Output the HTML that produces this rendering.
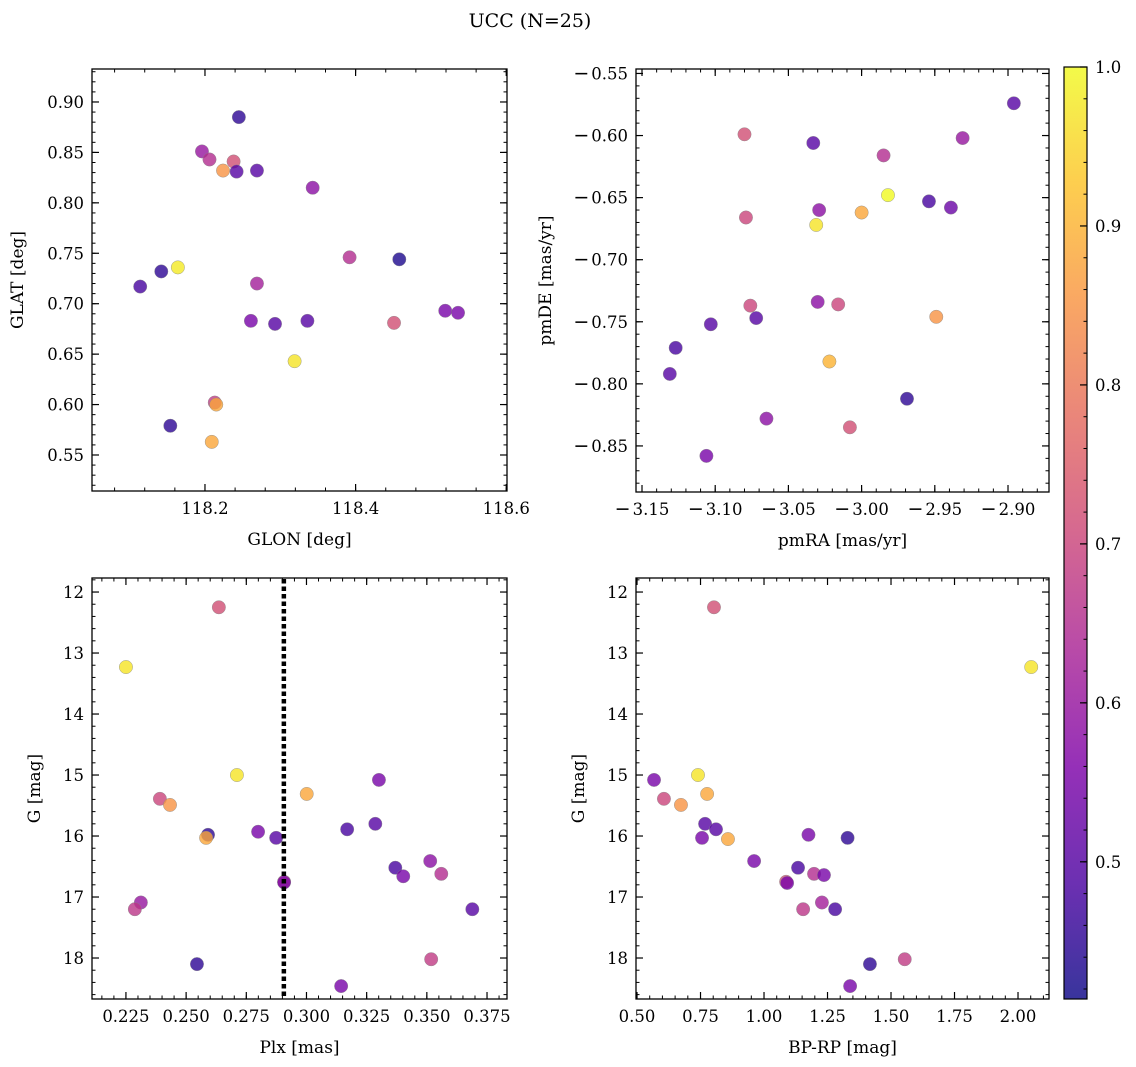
<!DOCTYPE html>
<html><head><meta charset="utf-8"><style>
body{margin:0;background:#fff;}
svg{display:block;font-family:"DejaVu Serif","Liberation Serif",serif;}
</style></head><body>
<svg id="fig" width="1136" height="1067" viewBox="0 0 1136 1067" xmlns="http://www.w3.org/2000/svg">
<defs><linearGradient id="plasma" x1="0" y1="1" x2="0" y2="0">
<stop offset="0" stop-color="#0d0887"/><stop offset="0.125" stop-color="#4c02a1"/><stop offset="0.25" stop-color="#7e03a8"/><stop offset="0.375" stop-color="#a92395"/><stop offset="0.5" stop-color="#cc4778"/><stop offset="0.625" stop-color="#e56b5d"/><stop offset="0.75" stop-color="#f89441"/><stop offset="0.875" stop-color="#fdc328"/><stop offset="1" stop-color="#f0f921"/></linearGradient></defs>
<text x="530" y="27" font-size="19" text-anchor="middle">UCC (N=25)</text>
</svg>
<script>
// ---- data ----
const tlGlon=[118.245,118.196,118.206,118.238,118.224,118.242,118.269,118.343,118.392,118.458,118.142,118.164,118.114,118.269,118.261,118.293,118.336,118.451,118.519,118.536,118.319,118.213,118.215,118.154,118.209];
const tlGlat=[0.885,0.851,0.843,0.841,0.832,0.831,0.832,0.815,0.746,0.744,0.732,0.736,0.717,0.720,0.683,0.680,0.683,0.681,0.693,0.691,0.643,0.602,0.600,0.579,0.563];
const tlProb=[0.45,0.6,0.65,0.72,0.85,0.5,0.5,0.58,0.65,0.43,0.45,0.98,0.48,0.62,0.55,0.5,0.5,0.72,0.55,0.55,0.97,0.68,0.88,0.45,0.88];
const trPmra=[-2.896,-2.931,-3.033,-3.080,-2.985,-2.982,-2.954,-2.939,-3.031,-3.000,-3.029,-3.079,-3.076,-3.030,-3.016,-2.949,-3.072,-3.103,-3.127,-3.022,-3.131,-2.969,-3.065,-3.008,-3.106];
const trPmde=[-0.574,-0.602,-0.606,-0.599,-0.616,-0.648,-0.653,-0.658,-0.672,-0.662,-0.660,-0.666,-0.737,-0.734,-0.736,-0.746,-0.747,-0.752,-0.771,-0.782,-0.792,-0.812,-0.828,-0.835,-0.858];
const trProb=[0.5,0.6,0.5,0.72,0.65,1.0,0.48,0.53,0.97,0.88,0.58,0.7,0.7,0.58,0.7,0.85,0.5,0.5,0.48,0.9,0.5,0.45,0.58,0.72,0.55];
const blPlx=[0.2636,0.225,0.2711,0.2391,0.2433,0.3301,0.3001,0.2591,0.2583,0.2799,0.2874,0.3169,0.3286,0.3369,0.3402,0.3514,0.3560,0.3689,0.2907,0.2312,0.2287,0.2545,0.3144,0.3518,0.2907];
const blG=[12.25,13.23,15.0,15.39,15.49,15.08,15.31,15.98,16.03,15.93,16.03,15.89,15.80,16.52,16.66,16.41,16.62,17.20,16.75,17.09,17.20,18.10,18.46,18.02,16.76];
const blProb=[0.72,0.97,0.97,0.7,0.85,0.55,0.88,0.45,0.88,0.55,0.5,0.48,0.5,0.48,0.55,0.58,0.65,0.5,0.72,0.6,0.67,0.45,0.55,0.68,0.55];
const brBprp=[0.803,2.052,0.567,0.606,0.673,0.740,0.776,0.768,0.811,0.756,0.858,1.175,1.329,0.961,1.134,1.087,1.091,1.197,1.236,1.228,1.154,1.280,1.417,1.339,1.554];
const brG=[12.25,13.23,15.08,15.39,15.49,15.0,15.31,15.80,15.89,16.03,16.05,15.98,16.03,16.41,16.52,16.75,16.77,16.62,16.64,17.09,17.20,17.20,18.10,18.46,18.02];
const brProb=[0.72,0.97,0.55,0.7,0.85,0.97,0.88,0.5,0.5,0.55,0.88,0.55,0.45,0.55,0.48,0.72,0.55,0.65,0.55,0.62,0.67,0.48,0.45,0.55,0.68];
const plxLine=0.2906;
const cbTicks=[0.5,0.6,0.7,0.8,0.9,1.0];

const svg=document.getElementById('fig');
const NS='http://www.w3.org/2000/svg';
function mk(tag,attrs,parent){const e=document.createElementNS(NS,tag);for(const k in attrs)e.setAttribute(k,attrs[k]);(parent||svg).appendChild(e);return e;}
const stops=[[0,[13,8,135]],[0.125,[76,2,161]],[0.25,[126,3,168]],[0.375,[169,35,149]],[0.5,[204,71,120]],[0.625,[229,107,93]],[0.75,[248,148,65]],[0.875,[253,195,40]],[1,[240,249,33]]];
const cmin=0.4137,cmax=1.0;
function cmap(v){let t=(v-cmin)/(cmax-cmin);t=Math.max(0,Math.min(1,t));for(let i=1;i<stops.length;i++){if(t<=stops[i][0]){const a=stops[i-1],b=stops[i];const f=(t-a[0])/(b[0]-a[0]);const c=a[1].map((x,j)=>Math.round(x+(b[1][j]-x)*f));return `rgb(${c})`;}}return 'rgb(240,249,33)';}

function setLabel(t,v,fmt){
  if(v<0){
    const m=mk('tspan',{'font-family':'DejaVu Sans, sans-serif','font-size':19},t);m.textContent='\u2212';
    const d=mk('tspan',{dx:2},t);d.textContent=fmt(Math.abs(v));
  } else t.textContent=fmt(v);
}
function panel(name,box,xr,yr,xt,yt,xminor,yminor,xfmt,yfmt,xlabel,ylabel,xs,ys,ps,yoff){
  const [L,T,R,B]=box;
  const sx=v=>L+(v-xr[0])/(xr[1]-xr[0])*(R-L);
  const sy=v=>B-(v-yr[0])/(yr[1]-yr[0])*(B-T);
  const g=mk('g',{});
  
  
  const xlo=Math.min(xr[0],xr[1]),xhi=Math.max(xr[0],xr[1]),ylo=Math.min(yr[0],yr[1]),yhi=Math.max(yr[0],yr[1]);
  for(let v=Math.ceil(xlo/xminor-1e-6)*xminor;v<=xhi+1e-9;v+=xminor){const x=sx(v);mk('line',{x1:x,x2:x,y1:B,y2:B-3.5,stroke:'#000','stroke-width':1},g);mk('line',{x1:x,x2:x,y1:T,y2:T+3.5,stroke:'#000','stroke-width':1},g);}
  for(let v=Math.ceil(ylo/yminor-1e-6)*yminor;v<=yhi+1e-9;v+=yminor){const y=sy(v);mk('line',{x1:L,x2:L+3.5,y1:y,y2:y,stroke:'#000','stroke-width':1},g);mk('line',{x1:R,x2:R-3.5,y1:y,y2:y,stroke:'#000','stroke-width':1},g);}
  xt.forEach(v=>{const x=sx(v);mk('line',{x1:x,x2:x,y1:B,y2:B-7,stroke:'#000','stroke-width':1.2},g);mk('line',{x1:x,x2:x,y1:T,y2:T+7,stroke:'#000','stroke-width':1.2},g);
    const t=mk('text',{x:x,y:B+23,'font-size':16.5,'text-anchor':'middle'},g);setLabel(t,v,xfmt);});
  yt.forEach(v=>{const y=sy(v);mk('line',{x1:L,x2:L+7,y1:y,y2:y,stroke:'#000','stroke-width':1.2},g);mk('line',{x1:R,x2:R-7,y1:y,y2:y,stroke:'#000','stroke-width':1.2},g);
    const t=mk('text',{x:L-8,y:y+6,'font-size':16.5,'text-anchor':'end'},g);setLabel(t,v,yfmt);});
  xs.forEach((v,i)=>{const c=mk('circle',{cx:sx(v),cy:sy(ys[i]),r:6.7,fill:cmap(ps[i]),'fill-opacity':0.8,stroke:'#888','stroke-width':0.4},g);
    
    });
  mk('rect',{x:L,y:T,width:R-L,height:B-T,fill:'none',stroke:'#000','stroke-width':1.3},g);
  const xl=mk('text',{x:(L+R)/2,y:B+54,'font-size':17,'text-anchor':'middle'},g);xl.textContent=xlabel;
  
  const yx=L-yoff;
  const yl=mk('text',{x:yx,y:(T+B)/2,'font-size':17,'text-anchor':'middle',transform:`rotate(-90 ${yx} ${(T+B)/2})`},g);yl.textContent=ylabel;
  
  return {sx,sy,g};
}
const f1=v=>v.toFixed(1),f2=v=>v.toFixed(2),f3=v=>v.toFixed(3),f0=v=>v.toFixed(0);
panel('panel-glon-glat',[92,69,507,491],[118.050,118.601],[0.5143,0.9327],[118.2,118.4,118.6],[0.55,0.60,0.65,0.70,0.75,0.80,0.85,0.90],0.04,0.01,f1,f2,'GLON [deg]','GLAT [deg]',tlGlon,tlGlat,tlProb,69);
panel('panel-pmra-pmde',[636,69,1049,492],[-3.1541,-2.872],[-0.8871,-0.5464],[-3.15,-3.10,-3.05,-3.00,-2.95,-2.90],[-0.85,-0.80,-0.75,-0.70,-0.65,-0.60,-0.55],0.01,0.01,f2,f2,'pmRA [mas/yr]','pmDE [mas/yr]',trPmra,trPmde,trProb,85);
const bl=panel('panel-plx-g',[92,578,507,999],[0.2109,0.3833],[18.672,11.77],[0.225,0.25,0.275,0.3,0.325,0.35,0.375],[12,13,14,15,16,17,18],0.005,0.2,f3,f0,'Plx [mas]','G [mag]',blPlx,blG,blProb,52);
const ln=mk('line',{x1:bl.sx(plxLine),x2:bl.sx(plxLine),y1:579,y2:998,stroke:'#000','stroke-width':4.5,'stroke-dasharray':'4.5 3'},bl.g);


panel('panel-bprp-g',[636,578,1049,999],[0.496,2.122],[18.672,11.77],[0.5,0.75,1.0,1.25,1.5,1.75,2.0],[12,13,14,15,16,17,18],0.05,0.2,f2,f0,'BP-RP [mag]','G [mag]',brBprp,brG,brProb,52);

// colorbar
const cb=mk('g',{});


const cT=67,cB=999,cL=1064,cR=1087;
mk('rect',{x:cL,y:cT,width:cR-cL,height:cB-cT,fill:'url(#plasma)','fill-opacity':0.82},cb);
mk('rect',{x:cL,y:cT,width:cR-cL,height:cB-cT,fill:'none',stroke:'#000','stroke-width':1.2},cb);
const cy=v=>cB-(v-cmin)/(cmax-cmin)*(cB-cT);
for(let v=0.42;v<=1.0001;v+=0.02){mk('line',{x1:cR,x2:cR-3.5,y1:cy(v),y2:cy(v),stroke:'#000','stroke-width':1},cb);}
cbTicks.forEach(v=>{mk('line',{x1:cR,x2:cR-7,y1:cy(v),y2:cy(v),stroke:'#000','stroke-width':1.2},cb);
  const t=mk('text',{x:cR+8,y:cy(v)+6,'font-size':16.5},cb);t.textContent=v.toFixed(1);
  });
</script>
</body></html>
